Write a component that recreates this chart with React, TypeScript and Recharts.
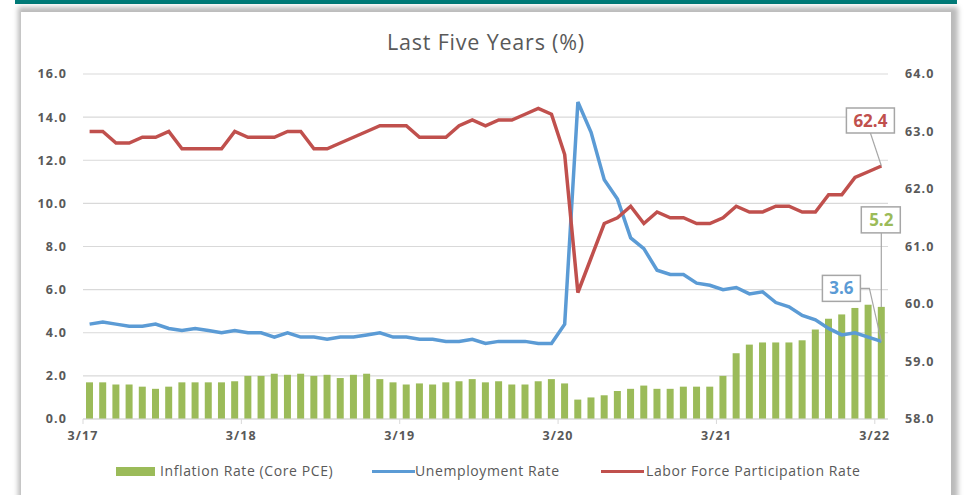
import React from 'react';
import { ComposedChart, Bar, Line, XAxis, YAxis, CartesianGrid, LabelList } from 'recharts';

// monthly, 3/17 .. 3/22 (61 months)
const inflation = [
  1.7, 1.7, 1.6, 1.6, 1.5, 1.4, 1.5, 1.7, 1.7, 1.7, 1.7, 1.75,
  2.0, 2.0, 2.1, 2.05, 2.1, 2.0, 2.05, 1.9, 2.05, 2.1, 1.85, 1.7,
  1.6, 1.65, 1.6, 1.7, 1.75, 1.85, 1.7, 1.75, 1.6, 1.6, 1.75, 1.85,
  1.65, 0.9, 1.0, 1.1, 1.3, 1.4, 1.55, 1.4, 1.4, 1.5, 1.5, 1.5,
  2.0, 3.05, 3.45, 3.55, 3.55, 3.55, 3.65, 4.15, 4.65, 4.85, 5.15, 5.3,
  5.2,
];
const unemployment = [
  4.4, 4.5, 4.4, 4.3, 4.3, 4.4, 4.2, 4.1, 4.2, 4.1, 4.0, 4.1,
  4.0, 4.0, 3.8, 4.0, 3.8, 3.8, 3.7, 3.8, 3.8, 3.9, 4.0, 3.8,
  3.8, 3.7, 3.7, 3.6, 3.6, 3.7, 3.5, 3.6, 3.6, 3.6, 3.5, 3.5,
  4.4, 14.7, 13.3, 11.1, 10.2, 8.4, 7.9, 6.9, 6.7, 6.7, 6.3, 6.2,
  6.0, 6.1, 5.8, 5.9, 5.4, 5.2, 4.8, 4.6, 4.2, 3.9, 4.0, 3.8,
  3.6,
];
const lfpr = [
  63.0, 63.0, 62.8, 62.8, 62.9, 62.9, 63.0, 62.7, 62.7, 62.7, 62.7, 63.0,
  62.9, 62.9, 62.9, 63.0, 63.0, 62.7, 62.7, 62.8, 62.9, 63.0, 63.1, 63.1,
  63.1, 62.9, 62.9, 62.9, 63.1, 63.2, 63.1, 63.2, 63.2, 63.3, 63.4, 63.3,
  62.6, 60.2, 60.8, 61.4, 61.5, 61.7, 61.4, 61.6, 61.5, 61.5, 61.4, 61.4,
  61.5, 61.7, 61.6, 61.6, 61.7, 61.7, 61.6, 61.6, 61.9, 61.9, 62.2, 62.3,
  62.4,
];
const tickMonths = [0, 12, 24, 36, 48, 60];
const tickLabels = ['3/17', '3/18', '3/19', '3/20', '3/21', '3/22'];
const leftTicks = [0, 2, 4, 6, 8, 10, 12, 14, 16];
const rightTicks = [58, 59, 60, 61, 62, 63, 64];

const GREEN = '#9BBB59';
const BLUE = '#5B9BD5';
const RED = '#C0504D';
const TEXT = '#595959';
const FONT = '"Open Sans", Lato, sans-serif';

const chartData = inflation.map((v, i) => ({
  x: i + 0.5,
  inflation: v,
  unemployment: unemployment[i],
  lfpr: lfpr[i],
}));
const last = chartData.length - 1;

const boxStyle = { fill: '#fff', stroke: '#a6a6a6', strokeWidth: 1.5 };

const LfprLabel = (props: any) => {
  const { x, y, index, value } = props;
  if (index !== last) return null;
  return (
    <g>
      <line x1={x - 11} y1={y - 33} x2={x} y2={y} stroke="#a6a6a6" strokeWidth={1.2} />
      <rect x={x - 35} y={y - 58} width={48} height={25} {...boxStyle} />
      <text x={x - 11} y={y - 39} textAnchor="middle" fill={RED} fontSize={17} fontWeight="bold" fontFamily={FONT}>
        {Number(value).toFixed(1)}
      </text>
    </g>
  );
};

const UnempLabel = (props: any) => {
  const { x, y, index, value } = props;
  if (index !== last) return null;
  return (
    <g>
      <polyline points={`${x - 21},${y - 53} ${x - 12},${y - 53} ${x},${y}`} fill="none" stroke="#a6a6a6" strokeWidth={1.2} />
      <rect x={x - 59} y={y - 66} width={38} height={26} {...boxStyle} />
      <text x={x - 40} y={y - 47} textAnchor="middle" fill={BLUE} fontSize={17} fontWeight="bold" fontFamily={FONT}>
        {Number(value).toFixed(1)}
      </text>
    </g>
  );
};

const InflLabel = (props: any) => {
  const { x, y, width, index, value } = props;
  if (index !== last) return null;
  const cx = x + width / 2;
  return (
    <g>
      <line x1={cx} y1={y - 74} x2={cx} y2={y} stroke="#a6a6a6" strokeWidth={1.2} />
      <rect x={cx - 20} y={y - 100} width={39} height={26} {...boxStyle} />
      <text x={cx} y={y - 81} textAnchor="middle" fill={GREEN} fontSize={17} fontWeight="bold" fontFamily={FONT}>
        {Number(value).toFixed(1)}
      </text>
    </g>
  );
};

const tickStyle = { fill: TEXT, fontSize: 12.5, fontWeight: 'bold' as const, fontFamily: FONT, letterSpacing: 1.1 };

const LegendRow = () => (
  <div style={{ position: 'absolute', left: 0, top: 461, width: 964, height: 20, fontFamily: FONT, fontSize: 14, letterSpacing: 0.6, color: TEXT }}>
    <div style={{ position: 'absolute', left: 116, top: 6, width: 39, height: 9, background: GREEN }} />
    <span style={{ position: 'absolute', left: 160, top: 0 }}>Inflation Rate (Core PCE)</span>
    <div style={{ position: 'absolute', left: 372, top: 9, width: 43, height: 3, background: BLUE }} />
    <span style={{ position: 'absolute', left: 415, top: 0 }}>Unemployment Rate</span>
    <div style={{ position: 'absolute', left: 601, top: 9, width: 43, height: 3, background: RED }} />
    <span style={{ position: 'absolute', left: 646, top: 0 }}>Labor Force Participation Rate</span>
  </div>
);

const App: React.FC = () => {
  return (
    <div style={{ position: 'absolute', left: 0, top: 0, width: 964, height: 495, overflow: 'hidden', background: '#fff' }}>
      {/* frame */}
      <div style={{ position: 'absolute', left: 15, top: 0, width: 942, height: 4, background: '#007b78' }} />
      <div
        style={{
          position: 'absolute', left: 21, top: 12, width: 930, height: 520, background: '#fff',
          boxShadow: '2px 0 5px 5px rgba(0,0,0,0.27)',
        }}
      />
      <div style={{ position: 'absolute', left: 0, top: 27, width: 972, textAlign: 'center', fontFamily: FONT, fontSize: 21.5, letterSpacing: 0.8, color: TEXT }}>
        Last Five Years (%)
      </div>
      <div style={{ position: 'absolute', left: 0, top: 0 }}>
        <ComposedChart width={964} height={495} data={chartData} margin={{ top: 74, right: 15, left: 23, bottom: 46 }}>
          <CartesianGrid yAxisId="left" vertical={false} stroke="#d9d9d9" strokeWidth={1.2} />
          <XAxis
            dataKey="x"
            type="number"
            domain={[0, 61]}
            ticks={tickMonths}
            tickFormatter={(v: number) => tickLabels[tickMonths.indexOf(v)] ?? ''}
            height={30}
            stroke="#d9d9d9"
            tickSize={5}
            tickMargin={7}
            tick={tickStyle}
            interval={0}
          />
          <YAxis
            yAxisId="left"
            domain={[0, 16]}
            ticks={leftTicks}
            tickFormatter={(v: number) => v.toFixed(1)}
            width={60}
            axisLine={false}
            tickLine={false}
            tickSize={0}
            tickMargin={16}
            tick={tickStyle}
          />
          <YAxis
            yAxisId="right"
            orientation="right"
            domain={[58, 64]}
            ticks={rightTicks}
            tickFormatter={(v: number) => v.toFixed(1)}
            width={61}
            axisLine={false}
            tickLine={false}
            tickSize={0}
            tickMargin={17}
            tick={{ ...tickStyle, textAnchor: 'start' }}
          />
          <Bar yAxisId="left" dataKey="inflation" fill={GREEN} barSize={7} isAnimationActive={false}>
            <LabelList dataKey="inflation" content={InflLabel} />
          </Bar>
          <Line yAxisId="left" dataKey="unemployment" stroke={BLUE} strokeWidth={3.5} dot={false} isAnimationActive={false}>
            <LabelList dataKey="unemployment" content={UnempLabel} />
          </Line>
          <Line yAxisId="right" dataKey="lfpr" stroke={RED} strokeWidth={3.5} dot={false} isAnimationActive={false}>
            <LabelList dataKey="lfpr" content={LfprLabel} />
          </Line>
        </ComposedChart>
      </div>
      <LegendRow />
    </div>
  );
};

export default App;
